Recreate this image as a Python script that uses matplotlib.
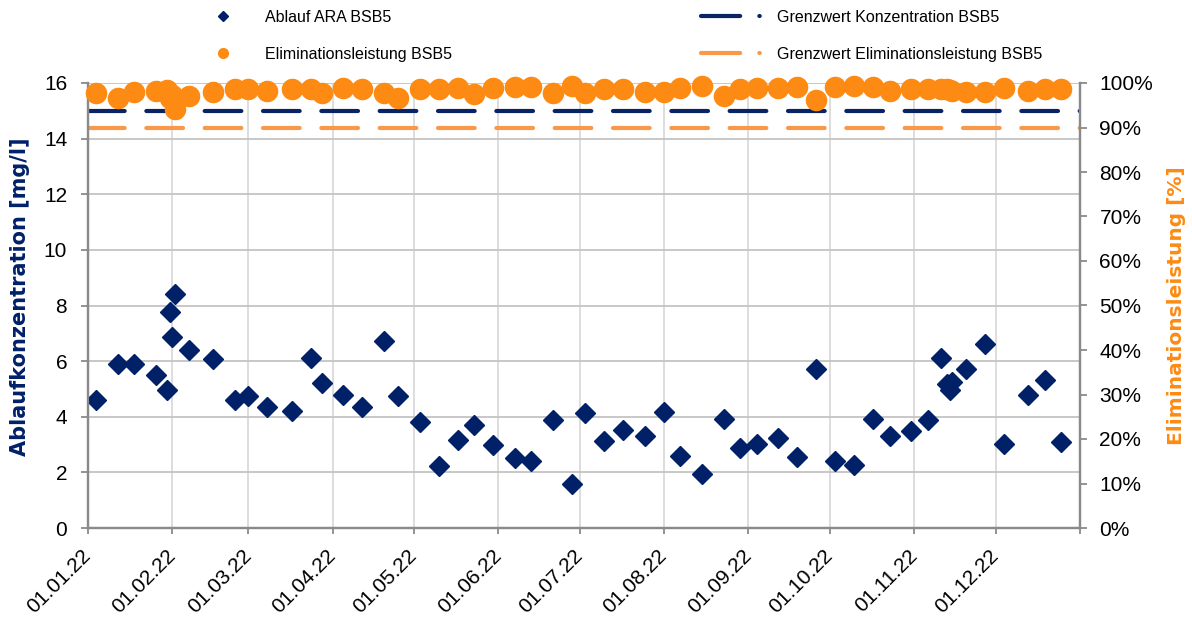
import matplotlib
matplotlib.use("Agg")
import matplotlib.pyplot as plt
from matplotlib.lines import Line2D
from matplotlib.ticker import FuncFormatter, MultipleLocator
import pandas as pd

# Probenahmedaten 2022
datum = pd.to_datetime([
    "2022-01-04", "2022-01-12", "2022-01-18", "2022-01-26", "2022-01-30",
    "2022-01-31", "2022-02-01", "2022-02-02", "2022-02-07", "2022-02-16",
    "2022-02-24", "2022-03-01", "2022-03-08", "2022-03-17", "2022-03-24",
    "2022-03-28", "2022-04-05", "2022-04-12", "2022-04-20", "2022-04-25",
    "2022-05-03", "2022-05-10", "2022-05-17", "2022-05-23", "2022-05-30",
    "2022-06-07", "2022-06-13", "2022-06-21", "2022-06-28", "2022-07-03",
    "2022-07-10", "2022-07-17", "2022-07-25", "2022-08-01", "2022-08-07",
    "2022-08-15", "2022-08-23", "2022-08-29", "2022-09-04", "2022-09-12",
    "2022-09-19", "2022-09-26", "2022-10-03", "2022-10-10", "2022-10-17",
    "2022-10-23", "2022-10-31", "2022-11-06", "2022-11-11", "2022-11-13",
    "2022-11-14", "2022-11-15", "2022-11-20", "2022-11-27", "2022-12-04",
    "2022-12-13", "2022-12-19", "2022-12-25",
])

# Ablaufkonzentration BSB5 [mg/l]
ablauf_bsb5 = [
    4.60, 5.89, 5.89, 5.50, 4.96, 7.78, 6.88, 8.40, 6.40, 6.06,
    4.60, 4.75, 4.36, 4.22, 6.10, 5.23, 4.78, 4.36, 6.74, 4.75,
    3.82, 2.23, 3.16, 3.70, 2.98, 2.51, 2.41, 3.88, 1.57, 4.12,
    3.13, 3.52, 3.32, 4.18, 2.60, 1.94, 3.91, 2.89, 3.01, 3.22,
    2.56, 5.70, 2.42, 2.28, 3.91, 3.32, 3.50, 3.88, 6.12, 5.18,
    4.96, 5.26, 5.70, 6.62, 3.01, 4.78, 5.32, 3.10,
]

# Eliminationsleistung BSB5 [%]
elimination_bsb5 = [
    97.7, 96.7, 97.9, 98.3, 98.4, 96.6, 97.4, 94.1, 97.1, 97.9,
    98.6, 98.6, 98.3, 98.6, 98.6, 97.7, 98.8, 98.6, 97.8, 96.6,
    98.6, 98.6, 98.8, 97.5, 98.8, 99.2, 99.2, 97.7, 99.4, 97.7,
    98.65, 98.6, 97.9, 97.9, 98.8, 99.4, 97.1, 98.6, 98.8, 98.8,
    99.2, 96.2, 99.2, 99.4, 99.2, 98.3, 98.65, 98.65, 98.6, 98.6,
    98.4, 98.3, 97.9, 97.9, 98.8, 98.3, 98.6, 98.65,
]

grenzwert_konz = 15.0   # mg/l
grenzwert_elim = 90.0   # %

navy = "#002068"
navy_line = "#0a2463"
orange = "#fd8a12"
orange_line = "#f89848"
grid_h = "#c4c4c4"
grid_v = "#dadada"
spine_col = "#8a8a8a"

plt.rcParams["font.family"] = ["Liberation Sans", "DejaVu Sans"]

fig = plt.figure(figsize=(11.92, 6.26), dpi=100, facecolor="white")
ax = fig.add_axes([88 / 1192, 98 / 626, 992 / 1192, 445 / 626])
ax2 = ax.twinx()

# Grenzwerte
ax.axhline(grenzwert_konz, color=navy_line, lw=3, dashes=(8.8, 5.2),
           dash_capstyle="round", zorder=2)
ax2.axhline(grenzwert_elim / 100, color=orange_line, lw=3, dashes=(8.8, 5.2),
            dash_capstyle="round", zorder=2)

# Messwerte
ax.plot(datum, ablauf_bsb5, ls="none", marker="D", ms=10.5, color=navy,
        mec=navy, zorder=3)
ax2.plot(datum, [v / 100 for v in elimination_bsb5], ls="none", marker="o",
         ms=14.5, color=orange, mec=orange, zorder=3, clip_on=False)

# Achsen
ax.set_xlim(pd.Timestamp("2022-01-01"), pd.Timestamp("2023-01-01"))
ax.set_ylim(0, 16)
ax2.set_ylim(0, 1)

ax.yaxis.set_major_locator(MultipleLocator(2))
ax2.yaxis.set_major_locator(MultipleLocator(0.1))
ax2.yaxis.set_major_formatter(FuncFormatter(lambda v, p: f"{v * 100:.0f}%"))

month_ticks = pd.date_range("2022-01-01", "2023-01-01", freq="MS")
ax.set_xticks(month_ticks)
ax.set_xticklabels([d.strftime("%d.%m.%y") for d in month_ticks[:-1]] + [""])
for lab in ax.get_xticklabels():
    lab.set_rotation(45)
    lab.set_rotation_mode("anchor")
    lab.set_ha("right")
    lab.set_va("center")

ax.grid(axis="y", color=grid_h, lw=1.3, zorder=0)
ax.grid(axis="x", color=grid_v, lw=1.3, zorder=0)
ax.set_axisbelow(True)

for a in (ax, ax2):
    a.spines["top"].set_visible(False)
    for s in ("left", "right", "bottom"):
        a.spines[s].set_color(spine_col)
        a.spines[s].set_linewidth(1.6)

ax.tick_params(axis="y", direction="out", length=5, width=1.3,
               color=spine_col, labelsize=15, pad=10)
ax.tick_params(axis="x", direction="out", length=4, width=1.3,
               color=spine_col, labelsize=15, pad=14)
ax2.tick_params(axis="y", direction="out", length=5, width=1.3,
                color=spine_col, labelsize=15, pad=9)

ax.set_ylabel("Ablaufkonzentration [mg/l]", color=navy, fontsize=15,
              fontweight="bold", family="DejaVu Sans")
ax.yaxis.set_label_coords(-0.058, 0.52)
ax2.set_ylabel("Eliminationsleistung [%]", color=orange, fontsize=14.5,
               fontweight="bold", family="DejaVu Sans", labelpad=10)

# Legende
handles = [
    Line2D([], [], ls="none", marker="D", ms=5, color=navy),
    Line2D([], [], ls="none", marker="o", ms=7, color=orange),
    Line2D([], [], color=navy_line, lw=3, dashes=(9.4, 4.6, 0.1, 20),
           dash_capstyle="round"),
    Line2D([], [], color=orange_line, lw=3, dashes=(9.4, 4.6, 0.1, 20),
           dash_capstyle="round"),
]
labels = ["Ablauf ARA BSB5", "Eliminationsleistung BSB5",
          "Grenzwert Konzentration BSB5", "Grenzwert Eliminationsleistung BSB5"]
fig.legend(handles, labels, ncol=2, loc="upper left",
           bbox_to_anchor=(189 / 1192, 1 - 10 / 626), frameon=False,
           fontsize=11.5, handlelength=4.26, handletextpad=0.5,
           columnspacing=15.6, labelspacing=1.36, borderpad=0, borderaxespad=0)

fig.savefig("out.png", dpi=100, facecolor="white")
